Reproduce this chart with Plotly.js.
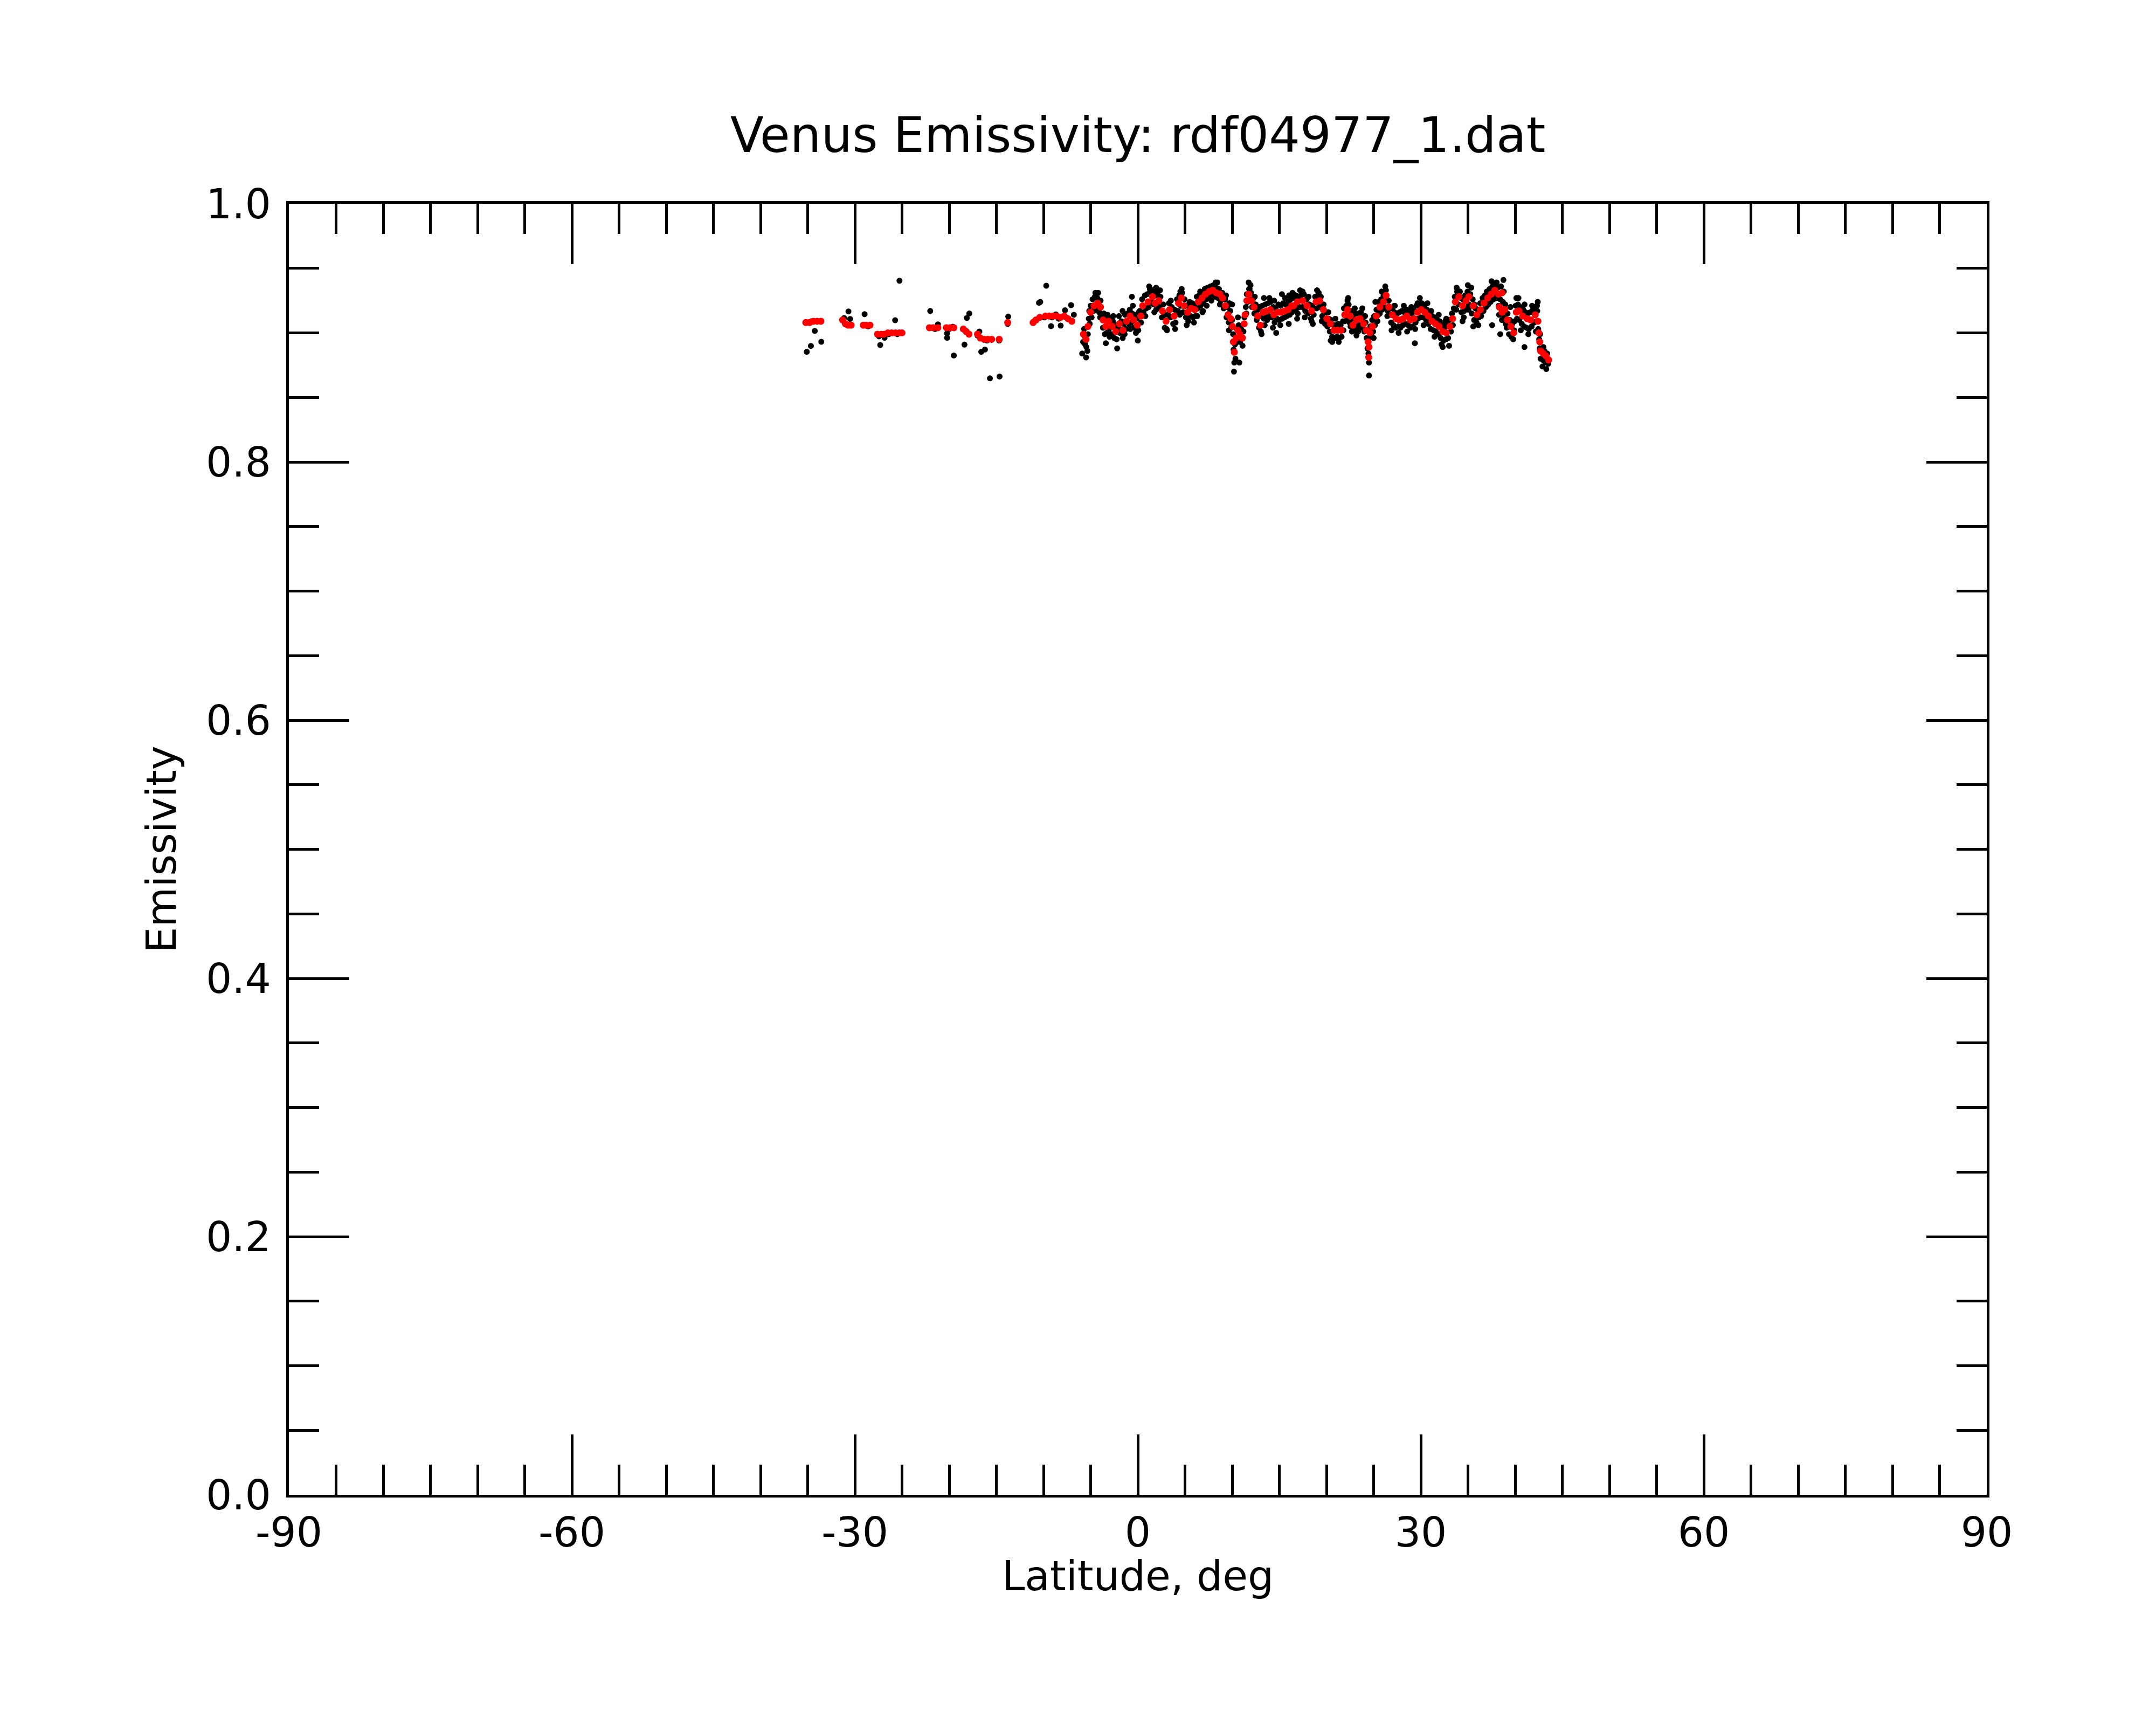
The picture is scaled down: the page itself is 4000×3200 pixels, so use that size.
<!DOCTYPE html>
<html>
<head>
<meta charset="utf-8">
<script src="https://cdn.plot.ly/plotly-3.0.1.min.js"></script>
<style>
  html, body { margin: 0; padding: 0; background: #fff; }
</style>
</head>
<body>
<div id="emisplot"></div>
<script>
/* raw emissivity samples (black) */
var rawLat = [
  -35.1, -34.66, -34.25, -33.56, -35.0, -34.6,
  -31.14, -30.68, -30.5, -31.2, -30.8, -28.97, -29.0, -28.6,
  -27.44, -27.31, -26.85, -25.73, -25.27, -27.5, -27.0, -26.4, -25.5,
  -22.01, -21.19, -20.22, -20.22, -19.61, -19.51, -22.0, -21.5, -20.0,
  -18.38, -18.13, -17.87, -18.3, -16.8, -16.6, -16.21, -17.0, -16.0,
  -15.68, -14.66, -14.7, -13.74, -13.8,
  -10.48, -9.71, -9.2, -8.69, -8.18, -7.72, -7.08, -6.78, -11.0, -10.34, -9.9, -9.1, -8.4, -7.6,
  -5.8, -5.7, -5.6, -5.45, -5.3, -5.2, -5.1, -5.0, -4.9, -5.58, -5.49, -5.35,
  -4.8, -4.7, -4.55, -4.4, -4.3, -4.1, -3.95, -3.85, -3.7, -3.6, -3.5, -3.4, -3.3, -3.2, -3.05,
  -2.9, -2.8, -2.65, -2.5, -2.4, -2.25, -2.1, -2.0, -1.9, -1.75, -1.6, -1.5, -1.35, -1.25, -1.1,
  -0.95, -0.85, -0.7, -0.6, -0.45, -0.35, -0.2, -0.1, 0.05, 0.2, 0.35, 0.45,
  0.6, 0.75, 0.9, 1.0, 1.15, 1.3, 1.45, 1.6, 1.7, 1.85, 1.95, 2.1, 2.25, 2.4, 2.55, 2.7, 2.85, 2.95, 3.05,
  3.2, 3.3, 3.45, 3.6, 3.75, 3.9, 4.0, 4.15, 4.25, 4.4, 4.55, 4.7, 4.8, 4.95,
  5.1, 5.25, 5.35, 5.5, 5.6, 5.75, 5.85, 6.0, 6.1, 6.25, 6.35, 6.5, 6.65, 6.75, 6.95,
  7.1, 7.25, 7.4, 7.55, 7.7, 7.85, 8.0, 8.15, 8.3, 8.5, 8.6, 8.8, 8.95, 9.1, 9.25, 9.4, 9.5, 9.65,
  9.8, 9.9, 10.0, 10.1, 10.15, 10.3, 10.35, 10.5, 10.55, 10.7, 10.85, 10.95, 11.1, 11.2, 11.3,
  11.45, 11.55, 11.65, 11.8, 11.9, 12.0, 12.1, 12.2, 12.35, 12.5, 12.6, 12.75, 12.85, 12.95, 13.05,
  13.2, 13.35, 13.5, 13.6, 13.8, 13.9, 14.05, 14.2, 14.35, 14.5, 14.6, 14.75, 14.9, 15.0,
  15.15, 15.3, 15.4, 15.55, 15.7, 15.8, 15.95, 16.1, 16.2, 16.35, 16.5, 16.6, 16.75, 16.85,
  17.0, 17.15, 17.3, 17.45, 17.6, 17.75, 17.9, 18.05, 18.2, 18.35, 18.5, 18.65, 18.8, 18.95,
  19.1, 19.25, 19.4, 19.55, 19.7, 19.85, 19.95,
  20.1, 20.25, 20.35, 20.5, 20.6, 20.75, 20.9, 21.0, 21.1, 21.25, 21.35, 21.5, 21.6, 21.75, 21.85, 21.95,
  22.1, 22.2, 22.35, 22.45, 22.6, 22.7, 22.85, 22.95, 23.1, 23.25, 23.4, 23.5, 23.65, 23.75, 23.9, 24.0, 24.15, 24.25,
  24.35, 24.45, 24.55, 24.65, 24.75, 24.85, 24.95, 25.05, 25.15, 25.3, 25.4, 25.55, 25.65, 25.8, 25.9,
  26.05, 26.15, 26.3, 26.4, 26.5, 26.6,
  26.75, 26.85, 26.95, 27.1, 27.2, 27.35, 27.5, 27.6, 27.75, 27.85, 28.0, 28.1, 28.25, 28.4, 28.5,
  28.65, 28.8, 28.9, 29.05, 29.15, 29.3, 29.45, 29.55, 29.7,
  29.85, 30.0, 30.1, 30.25, 30.4, 30.55, 30.65, 30.8, 30.95, 31.05, 31.2, 31.35, 31.5, 31.6, 31.75,
  31.85, 32.0, 32.1, 32.25, 32.4, 32.5, 32.65, 32.8, 32.9, 33.05, 33.2, 33.3,
  33.5, 33.6, 33.75, 33.9, 34.0, 34.15, 34.3, 34.45, 34.6, 34.7, 34.85, 34.95, 35.1, 35.25, 35.4,
  35.5, 35.65, 35.8, 35.9, 36.0,
  36.15, 36.3, 36.4, 36.55, 36.65, 36.8, 36.9, 37.0, 37.15, 37.3, 37.4, 37.6, 37.7, 37.9, 38.0,
  38.15, 38.3, 38.4, 38.5, 38.6, 38.7, 38.85, 38.95,
  39.1, 39.2, 39.35, 39.45, 39.6, 39.7, 39.8, 39.95, 40.05, 40.2, 40.3, 40.45, 40.55, 40.7, 40.85,
  40.95, 41.1, 41.2, 41.35, 41.45, 41.6, 41.75, 41.9, 42.0, 42.1, 42.25, 42.35, 42.45,
  42.55, 42.6, 42.7, 42.8, 42.95, 43.1, 43.25, 43.4, 43.5,
  -4.21, -3.39, -2.19, -0.63, -0.53, -1.62, 0.0, 1.28, 1.94, 3.09, 4.51, 5.18, 6.61, 6.9, 8.42,
  9.66, 10.0, 10.19, 10.23, 10.76, 10.61, 11.75, 11.85, 13.37, 13.12, 13.71, 14.32, 14.67, 15.28, 16.04,
  16.51, 17.47, 19.18, 16.89, 18.42, 20.61, 22.23, 23.18, 24.51, 24.51, 26.23, 25.18, 27.18, 29.37,
  29.66, 32.32, 32.7, 33.85, 34.99, 38.04, 38.76, 38.42, 40.13, 40.99, 42.32, 42.9, 35.56, 37.56, 34.42,
  -4.5, -4.0, -3.0, -2.6, -1.4, -0.8, 0.1, 0.8, 1.2, 1.75, 2.35, 2.8, 3.5, 3.95, 4.45, 4.65,
  5.4, 5.95, 6.3, 6.85, 7.3, 7.8, 8.25, 8.7, 9.35, 9.7, 11.5, 11.95, 12.4, 12.9, 13.45, 13.95,
  14.45, 15.1, 15.6, 16.0, 16.4, 16.95, 17.2, 17.7, 18.1, 18.55, 19.0, 19.5, 20.2, 20.45, 20.95,
  21.3, 21.8, 22.3, 22.55, 23.0, 23.35, 23.8, 24.1, 25.0, 25.5, 25.85, 26.45, 26.9, 27.25, 27.65,
  28.2, 28.55, 29.0, 29.4, 29.9, 30.3, 30.7, 31.1, 31.45, 31.9, 32.2, 32.6, 33.0, 33.4, 33.8,
  34.25, 34.55, 35.05, 35.35, 35.7, 36.1, 36.5, 37.05, 37.5, 37.8, 38.25, 38.8, 39.0, 39.5, 39.9,
  40.35, 40.6, 41.0, 41.4, 41.8, 42.2, 42.4, 42.65, 43.0, 43.3, -5.9, -5.15
];
var rawEmis = [
  0.8853, 0.8899, 0.9015, 0.8931, 0.908, 0.909,
  0.9115, 0.9166, 0.9108, 0.909, 0.906, 0.9145, 0.906, 0.905,
  0.8973, 0.8906, 0.8962, 0.9098, 0.9404, 0.898, 0.898, 0.899, 0.899,
  0.917, 0.9066, 0.8996, 0.8962, 0.9048, 0.8825, 0.904, 0.903, 0.903,
  0.8909, 0.9115, 0.915, 0.902, 0.901, 0.8853, 0.8871, 0.898, 0.894,
  0.8648, 0.8662, 0.894, 0.9126, 0.907,
  0.9233, 0.9365, 0.9052, 0.9143, 0.9056, 0.9175, 0.9215, 0.914, 0.909, 0.924, 0.912, 0.912, 0.911, 0.912,
  0.893, 0.903, 0.897, 0.889, 0.899, 0.911, 0.907, 0.921, 0.912, 0.891, 0.881, 0.886,
  0.926, 0.917, 0.928, 0.919, 0.927, 0.916, 0.925, 0.913, 0.904, 0.915, 0.899, 0.911, 0.900, 0.914, 0.903,
  0.911, 0.899, 0.909, 0.896, 0.906, 0.895, 0.904, 0.913, 0.900, 0.909, 0.896, 0.907, 0.914, 0.903, 0.915,
  0.907, 0.918, 0.908, 0.915, 0.904, 0.914, 0.900, 0.911, 0.902, 0.917, 0.908, 0.926,
  0.916, 0.929, 0.919, 0.930, 0.920, 0.932, 0.924, 0.933, 0.922, 0.929, 0.918, 0.931, 0.920, 0.928, 0.912, 0.922, 0.904, 0.914, 0.903,
  0.914, 0.923, 0.912, 0.920, 0.907, 0.918, 0.908, 0.926, 0.917, 0.929, 0.921, 0.931, 0.916, 0.926,
  0.912, 0.921, 0.909, 0.924, 0.913, 0.923, 0.912, 0.922, 0.913, 0.928, 0.919, 0.929, 0.921, 0.931, 0.923,
  0.934, 0.926, 0.935, 0.928, 0.936, 0.930, 0.937, 0.928, 0.935, 0.927, 0.934, 0.925, 0.931, 0.919, 0.926, 0.912, 0.920, 0.908,
  0.917, 0.904, 0.910, 0.899, 0.887, 0.891, 0.880, 0.903, 0.893, 0.906, 0.893, 0.903, 0.890, 0.901, 0.912,
  0.920, 0.930, 0.924, 0.934, 0.926, 0.931, 0.920, 0.926, 0.915, 0.922, 0.910, 0.918, 0.904, 0.913, 0.901,
  0.921, 0.911, 0.922, 0.912, 0.923, 0.913, 0.924, 0.912, 0.920, 0.908, 0.919, 0.911, 0.922, 0.910,
  0.921, 0.911, 0.923, 0.912, 0.922, 0.913, 0.924, 0.914, 0.926, 0.916, 0.927, 0.918, 0.929, 0.919,
  0.928, 0.920, 0.929, 0.920, 0.930, 0.917, 0.926, 0.915, 0.922, 0.911, 0.921, 0.914, 0.928, 0.919,
  0.929, 0.920, 0.928, 0.913, 0.922, 0.907, 0.916,
  0.905, 0.911, 0.901, 0.910, 0.897, 0.906, 0.896, 0.906, 0.897, 0.907, 0.896, 0.906, 0.897, 0.909, 0.919, 0.909,
  0.921, 0.912, 0.922, 0.908, 0.917, 0.901, 0.911, 0.902, 0.915, 0.905, 0.915, 0.906, 0.916, 0.904, 0.912, 0.901, 0.908, 0.896,
  0.888, 0.884, 0.896, 0.905, 0.898, 0.910, 0.901, 0.913, 0.906, 0.918, 0.909, 0.924, 0.915, 0.926, 0.918,
  0.929, 0.920, 0.933, 0.925, 0.917, 0.925,
  0.914, 0.908, 0.919, 0.906, 0.916, 0.904, 0.915, 0.905, 0.916, 0.904, 0.917, 0.906, 0.916, 0.907, 0.918,
  0.906, 0.916, 0.904, 0.915, 0.905, 0.917, 0.908, 0.921, 0.911,
  0.922, 0.912, 0.923, 0.912, 0.921, 0.910, 0.918, 0.907, 0.916, 0.903, 0.913, 0.902, 0.912, 0.901, 0.910,
  0.899, 0.909, 0.896, 0.906, 0.894, 0.904, 0.895, 0.906, 0.896, 0.910, 0.901, 0.915,
  0.919, 0.928, 0.918, 0.931, 0.922, 0.932, 0.916, 0.926, 0.917, 0.929, 0.919, 0.932, 0.922, 0.930, 0.915,
  0.926, 0.910, 0.919, 0.908, 0.918,
  0.912, 0.923, 0.913, 0.927, 0.917, 0.929, 0.920, 0.932, 0.922, 0.934, 0.924, 0.936, 0.926, 0.937, 0.927,
  0.935, 0.914, 0.926, 0.936, 0.910, 0.924, 0.912, 0.922,
  0.904, 0.915, 0.899, 0.910, 0.897, 0.907, 0.895, 0.909, 0.921, 0.911, 0.922, 0.910, 0.920, 0.907, 0.918,
  0.905, 0.916, 0.904, 0.915, 0.903, 0.916, 0.905, 0.918, 0.908, 0.920, 0.909, 0.917, 0.903,
  0.895, 0.888, 0.880, 0.887, 0.879, 0.886, 0.877, 0.884, 0.876,
  0.931, 0.892, 0.888, 0.928, 0.921, 0.917, 0.894, 0.934, 0.935, 0.902, 0.932, 0.906, 0.932, 0.917, 0.939,
  0.902, 0.922, 0.870, 0.877, 0.877, 0.912, 0.939, 0.934, 0.927, 0.899, 0.910, 0.904, 0.900, 0.930, 0.929,
  0.930, 0.932, 0.931, 0.911, 0.909, 0.893, 0.925, 0.898, 0.867, 0.877, 0.936, 0.924, 0.921, 0.892,
  0.923, 0.889, 0.911, 0.932, 0.937, 0.939, 0.941, 0.899, 0.927, 0.889, 0.921, 0.874, 0.905, 0.906, 0.909,
  0.931, 0.912, 0.897, 0.913, 0.899, 0.903, 0.916, 0.913, 0.936, 0.916, 0.933, 0.915, 0.925, 0.903, 0.914, 0.934,
  0.922, 0.908, 0.913, 0.916, 0.921, 0.925, 0.939, 0.922, 0.929, 0.923, 0.915, 0.937, 0.928, 0.920, 0.906, 0.927,
  0.925, 0.906, 0.927, 0.907, 0.931, 0.915, 0.933, 0.912, 0.928, 0.907, 0.933, 0.909, 0.916, 0.894, 0.911,
  0.893, 0.902, 0.927, 0.905, 0.919, 0.901, 0.919, 0.913, 0.896, 0.914, 0.932, 0.913, 0.902, 0.921, 0.900,
  0.921, 0.901, 0.920, 0.903, 0.927, 0.906, 0.923, 0.917, 0.897, 0.914, 0.891, 0.909, 0.890, 0.906, 0.935,
  0.927, 0.912, 0.918, 0.935, 0.922, 0.906, 0.918, 0.926, 0.940, 0.929, 0.921, 0.932, 0.907, 0.920, 0.902,
  0.927, 0.902, 0.922, 0.899, 0.921, 0.901, 0.924, 0.899, 0.889, 0.872, 0.884, 0.917
];

/* smoothed emissivity (red) */
var smoothLat = [
  -35.2, -34.8, -34.4, -34.0, -33.6, -31.3, -31.0, -30.7, -30.4, -29.1, -28.8, -28.4,
  -27.6, -27.2, -26.9, -26.5, -26.1, -25.7, -25.3, -25.0, -22.1, -21.7, -21.2, -20.3, -19.9, -19.5,
  -18.5, -18.2, -17.9, -17.0, -16.7, -16.3, -15.9, -15.5, -14.7, -13.8,
  -11.1, -10.8, -10.4, -9.8, -9.4, -9.0, -8.6, -8.2, -7.8, -7.4, -7.0,
  -5.77, -5.49, -5.29, -5.01, -4.63, -4.25, -3.96, -3.68, -3.39, -3.10, -2.72, -2.34, -1.96, -1.58,
  -1.20, -0.82, -0.44, -0.06, 0.32, 0.52, 1.09, 1.56, 1.85, 2.23, 2.61, 2.99, 3.37, 3.85, 4.32,
  4.61, 4.90, 5.28, 5.66, 6.04, 6.42, 6.80, 7.18, 7.56, 7.94, 8.32, 8.70, 8.99, 9.28, 9.56, 9.85,
  10.04, 10.13, 10.23, 10.42, 10.61, 10.80, 11.09, 11.28, 11.37, 11.56, 11.75, 12.04, 12.32, 12.70,
  12.99, 13.28, 13.66, 14.04, 14.42, 14.80, 15.18, 15.56, 15.94, 16.32, 16.51, 16.90, 17.47, 17.94,
  18.42, 18.90, 19.28, 19.66, 20.04, 20.42, 20.80, 21.18, 21.56, 21.94, 22.23, 22.51, 22.80, 23.18,
  23.56, 23.94, 24.23, 24.42, 24.48, 24.51, 24.61, 24.89, 25.28, 25.66, 26.04, 26.32, 26.61, 26.99,
  27.37, 27.75, 28.13, 28.51, 28.89, 29.28, 29.66, 30.04, 30.42, 30.80, 31.18, 31.56, 31.94, 32.32,
  32.70, 33.09, 33.37, 33.66, 34.04, 34.42, 34.80, 35.09, 35.56, 35.94, 36.32, 36.70, 37.09, 37.47,
  37.85, 38.23, 38.61, 38.32, 38.61, 38.90, 39.18, 39.56, 39.85, 40.13, 40.42, 40.80, 41.28, 41.66,
  42.13, 42.42, 42.51, 42.61, 42.70, 42.99, 43.28, 43.56
];
var smoothEmis = [
  0.908, 0.908, 0.909, 0.909, 0.909, 0.910, 0.907, 0.906, 0.906, 0.906, 0.906, 0.906,
  0.899, 0.899, 0.899, 0.900, 0.900, 0.900, 0.900, 0.900, 0.904, 0.904, 0.904, 0.904, 0.904, 0.904,
  0.903, 0.901, 0.899, 0.899, 0.896, 0.895, 0.895, 0.895, 0.895, 0.908,
  0.908, 0.910, 0.912, 0.913, 0.913, 0.913, 0.913, 0.912, 0.913, 0.911, 0.909,
  0.899, 0.895, 0.905, 0.916, 0.921, 0.923, 0.920, 0.910, 0.905, 0.909, 0.905, 0.901, 0.907, 0.902,
  0.909, 0.913, 0.910, 0.906, 0.913, 0.921, 0.924, 0.928, 0.923, 0.925, 0.917, 0.909, 0.918, 0.913, 0.923,
  0.927, 0.921, 0.916, 0.919, 0.918, 0.924, 0.927, 0.930, 0.932, 0.933, 0.931, 0.930, 0.927, 0.921, 0.914, 0.911,
  0.905, 0.893, 0.885, 0.896, 0.902, 0.899, 0.896, 0.907, 0.914, 0.925, 0.930, 0.925, 0.920, 0.913,
  0.906, 0.916, 0.917, 0.918, 0.914, 0.916, 0.916, 0.917, 0.918, 0.921, 0.921, 0.924, 0.925, 0.921,
  0.917, 0.924, 0.925, 0.918, 0.911, 0.907, 0.902, 0.902, 0.902, 0.914, 0.918, 0.913, 0.906, 0.910,
  0.911, 0.907, 0.902, 0.893, 0.881, 0.889, 0.900, 0.905, 0.913, 0.920, 0.924, 0.929, 0.920, 0.914,
  0.911, 0.910, 0.911, 0.913, 0.910, 0.911, 0.916, 0.918, 0.916, 0.913, 0.909, 0.907, 0.905, 0.901,
  0.900, 0.905, 0.911, 0.924, 0.928, 0.921, 0.925, 0.928, 0.921, 0.914, 0.918, 0.923, 0.927, 0.930,
  0.933, 0.930, 0.931, 0.920, 0.916, 0.918, 0.910, 0.905, 0.900, 0.916, 0.917, 0.913, 0.911, 0.910,
  0.914, 0.909, 0.900, 0.893, 0.886, 0.884, 0.882, 0.879
];

/* axis tick labels */
var latTicks = [-90, -60, -30, 0, 30, 60, 90];
var latTickText = ['-90', '-60', '-30', '0', '30', '60', '90'];
var emisTicks = [0, 0.2, 0.4, 0.6, 0.8, 1.0];
var emisTickText = ['0.0', '0.2', '0.4', '0.6', '0.8', '1.0'];

var font = 'DejaVu Sans';

var data = [
  {
    x: rawLat, y: rawEmis,
    type: 'scatter', mode: 'markers',
    marker: {color: 'black', size: 11, line: {width: 0}},
    hoverinfo: 'skip'
  },
  {
    x: smoothLat, y: smoothEmis,
    type: 'scatter', mode: 'markers',
    marker: {color: 'rgb(255, 0, 0)', size: 13, line: {width: 0}},   // smoothed on top
    hoverinfo: 'skip'
  }
];

var axisCommon = {
  showline: true, linecolor: 'black', linewidth: 5,
  mirror: 'allticks',
  ticks: 'inside', ticklen: 112, tickwidth: 5, tickcolor: 'black',
  showgrid: false, zeroline: false,
  tickfont: {family: font, size: 76, color: 'black'}
};

var layout = {
  width: 4000,
  height: 3200,
  showlegend: false,
  paper_bgcolor: 'white',
  plot_bgcolor: 'white',
  margin: {l: 536, r: 314, t: 378, b: 427, pad: 0},
  title: {
    text: 'Venus Emissivity: rdf04977_1.dat',
    font: {family: font, size: 91, color: 'black'},
    xref: 'paper', x: 0.5, xanchor: 'center',
    yref: 'container', y: 1 - 250 / 3200, yanchor: 'middle'
  },
  xaxis: Object.assign({}, axisCommon, {
    range: [-90, 90],
    tickmode: 'array', tickvals: latTicks, ticktext: latTickText,
    minor: {tickmode: 'linear', tick0: -90, dtick: 5, ticks: 'inside', ticklen: 56, tickwidth: 5, tickcolor: 'black', showgrid: false}
  }),
  yaxis: Object.assign({}, axisCommon, {
    range: [0, 1],
    ticklabelstandoff: 13,
    tickmode: 'array', tickvals: emisTicks, ticktext: emisTickText,
    minor: {tickmode: 'linear', tick0: 0, dtick: 0.05, ticks: 'inside', ticklen: 56, tickwidth: 5, tickcolor: 'black', showgrid: false},
    title: {text: 'Emissivity', font: {family: font, size: 76, color: 'black'}, standoff: 32}
  }),
  // x title sits tight under the tick labels, closer than axis title standoff allows
  annotations: [{
    text: 'Latitude, deg',
    font: {family: font, size: 76, color: 'black'},
    xref: 'paper', x: 0.5, xanchor: 'center',
    yref: 'paper', y: -0.063, yanchor: 'middle',
    showarrow: false
  }]
};

Plotly.newPlot('emisplot', data, layout, {staticPlot: true});
</script>
</body>
</html>
